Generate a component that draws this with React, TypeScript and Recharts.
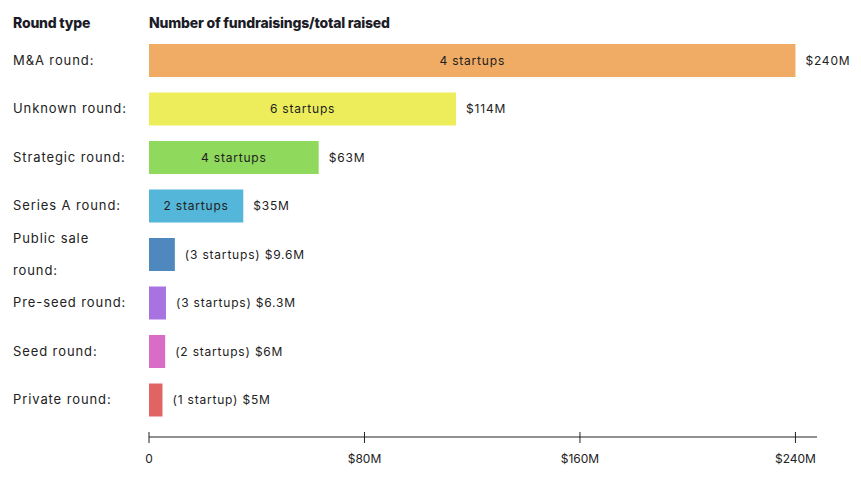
import React from 'react';
import { BarChart, Bar, XAxis, YAxis, Cell, LabelList } from 'recharts';

const rounds = [
  'M&A round:',
  'Unknown round:',
  'Strategic round:',
  'Series A round:',
  'Public sale round:',
  'Pre-seed round:',
  'Seed round:',
  'Private round:',
];
const raised = [240, 114, 63, 35, 9.6, 6.3, 6, 5]; // $M
const startups = [4, 6, 4, 2, 3, 3, 2, 1];
const colors = ['#F0AB65', '#EDED5B', '#8FD95C', '#54B6D8', '#4F88BF', '#A873E0', '#D86CC6', '#E06464'];
const xTicks = [0, 80, 160, 240];

const data = rounds.map((round, i) => ({ round, raised: raised[i], startups: startups[i] }));

const FONT = 'Inter, "Noto Sans", sans-serif';
const TEXT = '#222222';

const fmtMoney = (v: number) => `$${v}M`;
const fmtCount = (n: number) => `${n} ${n === 1 ? 'startup' : 'startups'}`;

const RoundTick = (props: any) => {
  const { y, payload } = props;
  const label: string = payload.value;
  // the long one wraps onto two lines in the original
  const lines = label === 'Public sale round:' ? ['Public sale', 'round:'] : [label];
  const offset = lines.length > 1 ? -16 : 0;
  return (
    <text x={13} y={y} fill={TEXT} fontSize={13} fontFamily={FONT} letterSpacing={0.9} textAnchor="start">
      {lines.map((l, i) => (
        <tspan key={i} x={13} y={y + offset + i * 32} dy="0.35em">{l}</tspan>
      ))}
    </text>
  );
};

const MoneyTick = (props: any) => {
  const { x, y, payload } = props;
  return (
    <g>
      <line x1={x} x2={x} y1={y - 5} y2={y + 6} stroke={TEXT} strokeWidth={1} />
      <text x={x} y={y + 22} fill={TEXT} fontSize={12} fontFamily={FONT} textAnchor="middle" dy="0.35em">
        {payload.value === 0 ? '0' : fmtMoney(payload.value)}
      </text>
    </g>
  );
};

const BarLabel = (props: any) => {
  const { x, y, width, height, index } = props;
  const d = data[index];
  const cy = y + height / 2;
  const common = { fill: TEXT, fontSize: 12, fontFamily: FONT, letterSpacing: 0.8, dy: '0.35em' };
  if (width > 80) {
    return (
      <g>
        <text x={x + width / 2} y={cy} textAnchor="middle" {...common}>{fmtCount(d.startups)}</text>
        <text x={x + width + 10} y={cy} textAnchor="start" {...common}>{fmtMoney(d.raised)}</text>
      </g>
    );
  }
  return (
    <text x={x + width + 10} y={cy} textAnchor="start" {...common}>
      ({fmtCount(d.startups)}) {fmtMoney(d.raised)}
    </text>
  );
};

const headStyle: React.CSSProperties = {
  position: 'absolute',
  top: 14,
  fontSize: 14,
  fontWeight: 800,
  color: '#1c1c28',
  letterSpacing: -0.2,
};

export default function App() {
  return (
    <div style={{ position: 'relative', margin: -8, width: 861, height: 482, background: '#fff', fontFamily: FONT }}>
      <div style={{ ...headStyle, left: 13 }}>Round type</div>
      <div style={{ ...headStyle, left: 149 }}>Number of fundraisings/total raised</div>
      <BarChart
        width={861}
        height={482}
        data={data}
        layout="vertical"
        margin={{ top: 36, right: 44, left: 0, bottom: 15 }}
      >
        <XAxis
          type="number"
          dataKey="raised"
          domain={[0, 248]}
          ticks={xTicks}
          tickLine={false}
          tickSize={0}
          tickMargin={0}
          axisLine={{ stroke: TEXT, strokeWidth: 1 }}
          tick={<MoneyTick />}
          height={30}
          interval={0}
        />
        <YAxis
          type="category"
          dataKey="round"
          width={149}
          axisLine={false}
          tickLine={false}
          tick={<RoundTick />}
          padding={{ top: 0, bottom: 13 }}
          interval={0}
        />
        <Bar dataKey="raised" barSize={33} isAnimationActive={false}>
          {data.map((d, i) => (
            <Cell key={d.round} fill={colors[i]} />
          ))}
          <LabelList dataKey="raised" content={<BarLabel />} />
        </Bar>
      </BarChart>
    </div>
  );
}
